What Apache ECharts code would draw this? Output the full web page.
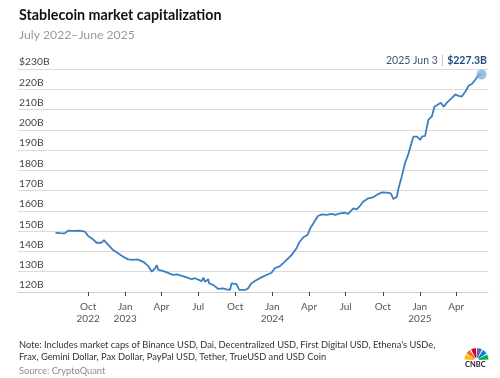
<!DOCTYPE html>
<html>
<head>
<meta charset="utf-8">
<script src="https://cdn.jsdelivr.net/npm/echarts@6/dist/echarts.min.js"></script>
<style>
html,body{margin:0;padding:0;background:#fff;}
#chart{width:500px;height:378px;}
</style>
</head>
<body>
<div id="chart"></div>
<script>
var dates = ['2022-07-12','2022-07-23','2022-08-04','2022-08-12','2022-08-25','2022-09-10','2022-09-23','2022-10-01','2022-10-13','2022-10-22','2022-11-03','2022-11-09','2022-11-20','2022-12-02','2022-12-15','2022-12-27','2023-01-08','2023-01-21','2023-01-31','2023-02-15','2023-02-27','2023-03-08','2023-03-16','2023-03-20','2023-03-24','2023-04-02','2023-04-14','2023-04-30','2023-05-09','2023-05-30','2023-06-15','2023-06-23','2023-07-10','2023-07-14','2023-07-18','2023-07-26','2023-07-28','2023-08-07','2023-08-20','2023-09-01','2023-09-09','2023-09-18','2023-09-22','2023-10-04','2023-10-11','2023-10-25','2023-11-02','2023-11-10','2023-11-23','2023-12-05','2023-12-17','2023-12-30','2024-01-07','2024-01-20','2024-02-01','2024-02-18','2024-03-01','2024-03-09','2024-03-18','2024-03-28','2024-04-04','2024-04-12','2024-04-23','2024-05-03','2024-05-15','2024-05-27','2024-06-05','2024-06-17','2024-06-29','2024-07-07','2024-07-20','2024-07-28','2024-08-05','2024-08-13','2024-08-26','2024-09-07','2024-09-20','2024-09-28','2024-10-11','2024-10-21','2024-10-27','2024-11-05','2024-11-09','2024-11-17','2024-11-25','2024-12-04','2024-12-12','2024-12-16','2024-12-25','2025-01-02','2025-01-06','2025-01-14','2025-01-22','2025-01-31','2025-02-06','2025-02-16','2025-02-22','2025-03-01','2025-03-09','2025-03-21','2025-03-30','2025-04-07','2025-04-15','2025-04-24','2025-05-02','2025-05-10','2025-05-18','2025-05-27','2025-06-03'];

var marketCap = [149.3,149.0,148.9,150.3,150.2,150.3,149.8,147.6,146.0,144.3,
  144.3,145.6,143.2,140.7,139.0,137.4,136.1,135.8,136.1,134.9,
  132.8,130.0,131.7,133.3,130.9,130.5,129.7,128.4,128.7,127.5,
  126.3,126.8,125.4,127.1,125.1,126.3,124.3,123.5,121.5,121.8,
  121.3,121.0,124.3,123.9,121.0,121.0,121.8,124.3,125.9,127.2,
  128.4,129.5,131.7,132.8,135.0,138.3,141.6,144.8,147.0,148.1,
  151.4,153.9,157.5,158.3,158.0,158.5,158.0,158.8,159.1,158.5,
  161.3,160.8,162.4,164.5,166.2,166.7,168.3,169.1,169.0,168.7,
  165.9,167.0,171.2,176.9,183.5,188.4,194.1,196.6,196.6,195.0,
  196.6,197.0,204.9,206.8,211.4,212.6,213.4,211.4,213.4,215.6,
  217.5,216.7,216.4,218.9,221.8,222.6,224.6,227.1,227.3];

var tickDates = ['2022-10-01','2023-01-01','2023-04-01','2023-07-01','2023-10-01','2024-01-01','2024-04-01','2024-07-01','2024-10-01','2025-01-01','2025-04-01'];
var tickLabels = ['Oct\n2022','Jan\n2023','Apr','Jul','Oct','Jan\n2024','Apr','Jul','Oct','Jan\n2025','Apr'];

var yTicks = [120,130,140,150,160,170,180,190,200,210,220,230];
var lastLabelDate = '2025 Jun 3';
var lastLabelValue = '$227.3B';

var titleText = 'Stablecoin market capitalization';
var subtitleText = 'July 2022\u2013June 2025';
var noteLine1 = "Note: Includes market caps of Binance USD, Dai, Decentralized USD, First Digital USD, Ethena's USDe,";
var noteLine2 = 'Frax, Gemini Dollar, Pax Dollar, PayPal USD, Tether, TrueUSD and USD Coin';
var sourceText = 'Source: CryptoQuant';

function toTs(s){ var p = s.split('-'); return Date.UTC(+p[0], +p[1]-1, +p[2]); }

var seriesData = dates.map(function(d,i){ return [toTs(d), marketCap[i]]; });
var tickTs = tickDates.map(toTs);
var labelMap = {};
tickTs.forEach(function(t,i){ labelMap[t] = tickLabels[i]; });

var FONT = 'Lato';
var chart = echarts.init(document.getElementById('chart'), null, {renderer:'canvas'});

var feathers = ['#FCB711','#F37021','#CC004C','#6460AA','#0089D0','#0DB14B'];
var logoGraphics = feathers.map(function(c,i){
  var a0 = Math.PI + i * Math.PI/6 + 0.05;
  var a1 = Math.PI + (i+1) * Math.PI/6 - 0.05;
  return {type:'sector', shape:{cx:476.5, cy:360, r:12, r0:2.5, startAngle:a0, endAngle:a1}, style:{fill:c}};
});

var option = {
  backgroundColor:'#fff',
  animation:false,
  textStyle:{fontFamily:FONT},
  title:[
    {text:titleText, left:19, top:8, padding:0, textStyle:{fontFamily:FONT, fontWeight:'bold', fontSize:14.3, color:'#111'}},
    {text:subtitleText, left:19, top:29, padding:0, textStyle:{fontFamily:FONT, fontWeight:'normal', fontSize:12.2, color:'#9a9a9a'}}
  ],
  grid:{left:18, right:12, top:69, bottom:86, containLabel:false},
  xAxis:{
    type:'value',
    min:toTs('2022-04-10'),
    max:toTs('2025-06-19'),
    axisLine:{show:true, lineStyle:{color:'#cfcfcf', width:1}},
    axisTick:{show:true, customValues:tickTs, length:4, lineStyle:{color:'#444', width:1}},
    axisLabel:{customValues:tickTs, margin:8, fontFamily:FONT, fontSize:10, color:'#555', lineHeight:12.6, verticalAlign:'top',
      formatter:function(v){ return labelMap[v] !== undefined ? labelMap[v] : ''; }},
    splitLine:{show:false}
  },
  yAxis:{
    type:'value',
    min:120, max:230, interval:10,
    axisLine:{show:false},
    axisTick:{show:false},
    axisLabel:{inside:true, margin:1, fontFamily:FONT, fontSize:10.3, color:'#444', align:'left', verticalAlign:'bottom', padding:[0,0,2,0],
      formatter:function(v){ return (v === yTicks[yTicks.length-1] ? '$' : '') + v + 'B'; }},
    splitLine:{show:true, lineStyle:{color:'#dcdcdc', width:1}}
  },
  series:[
    {type:'line', data:seriesData, showSymbol:false, smooth:false, z:3,
     lineStyle:{color:'#3a7fc0', width:1.8}},
    {type:'scatter', data:[seriesData[seriesData.length-1]], symbolSize:9, z:4,
     itemStyle:{color:'#7fb0de', borderColor:'rgba(127,176,222,0.45)', borderWidth:2}}
  ],
  graphic:[
    {type:'text', right:13, top:55, style:{
      text:'{d|' + lastLabelDate + '} {s||} {v|' + lastLabelValue + '}',
      rich:{
        d:{fontFamily:FONT, fontSize:10.5, fill:'#3a5878'},
        s:{fontFamily:FONT, fontSize:10.5, fill:'#b0b0b0'},
        v:{fontFamily:FONT, fontSize:10.5, fontWeight:'bold', fill:'#1d4f7c'}
      }}},
    {type:'text', left:19, top:340, style:{text:noteLine1, font:'9.3px Lato', fill:'#333'}},
    {type:'text', left:19, top:352.5, style:{text:noteLine2, font:'9.3px Lato', fill:'#333'}},
    {type:'text', left:19, top:366.5, style:{text:sourceText, font:'9.3px Lato', fill:'#8a8a8a'}},
    {type:'group', children:logoGraphics},
    {type:'text', left:465, top:361, style:{text:'CNBC', font:'bold 7.5px Lato', fill:'#1a1a2e'}}
  ]
};
chart.setOption(option);
</script>
</body>
</html>
